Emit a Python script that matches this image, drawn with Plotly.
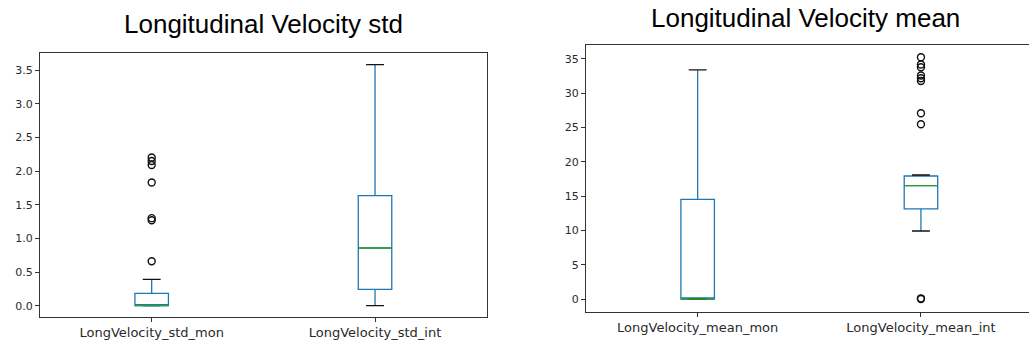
import plotly.graph_objects as go

# ---- data ----
std_labels = ["LongVelocity_std_mon", "LongVelocity_std_int"]
std_q1 = [0.0, 0.244]
std_median = [0.0, 0.857]
std_q3 = [0.184, 1.635]
std_low = [0.0, 0.0]
std_high = [0.39, 3.58]
std_outliers_mon = [0.66, 1.27, 1.30, 1.83, 2.09, 2.15, 2.20]
std_outliers_int = []

mean_labels = ["LongVelocity_mean_mon", "LongVelocity_mean_int"]
mean_q1 = [0.0, 13.13]
mean_median = [0.0, 16.53]
mean_q3 = [14.54, 17.94]
mean_low = [0.0, 9.92]
mean_high = [33.4, 18.08]
mean_outliers_mon = []
mean_outliers_int = [0.0, 0.1, 25.48, 27.08, 31.8, 32.2, 32.6, 33.8, 34.2, 35.25]

BLUE = "#1f77b4"
GREEN = "#2ca02c"
BOXW = 0.15
CAPW = 0.08

fig = go.Figure()


def add_panel(xa, ya, q1, med, q3, lo, hi, outs):
    pos = [1, 2]
    fig.add_trace(go.Box(
        x=pos, q1=q1, median=med, q3=q3, lowerfence=lo, upperfence=hi,
        width=BOXW, whiskerwidth=0, line=dict(color=BLUE, width=1.3),
        fillcolor="rgba(0,0,0,0)", boxpoints=False, showlegend=False,
        xaxis=xa, yaxis=ya, hoverinfo="skip"))
    # caps
    for p, l, h in zip(pos, lo, hi):
        for v in (l, h):
            fig.add_trace(go.Scatter(x=[p - CAPW / 2, p + CAPW / 2], y=[v, v], mode="lines",
                                     line=dict(color="#111111", width=1.3), showlegend=False,
                                     xaxis=xa, yaxis=ya, hoverinfo="skip"))
    # medians
    for p, m in zip(pos, med):
        fig.add_trace(go.Scatter(x=[p - BOXW / 2, p + BOXW / 2], y=[m, m], mode="lines",
                                 line=dict(color=GREEN, width=1.3), showlegend=False,
                                 xaxis=xa, yaxis=ya, hoverinfo="skip"))
    # outliers
    for p, o in zip(pos, outs):
        if o:
            fig.add_trace(go.Scatter(x=[p] * len(o), y=o, mode="markers",
                                     marker=dict(symbol="circle-open", size=7,
                                                 color="#111111", line=dict(width=1.4)),
                                     showlegend=False, xaxis=xa, yaxis=ya, hoverinfo="skip"))


add_panel("x", "y", std_q1, std_median, std_q3, std_low, std_high,
          [std_outliers_mon, std_outliers_int])
add_panel("x2", "y2", mean_q1, mean_median, mean_q3, mean_low, mean_high,
          [mean_outliers_mon, mean_outliers_int])

W, H = 1029, 345
axis_common = dict(showgrid=False, zeroline=False, showline=True, linecolor="#333333",
                   linewidth=1, ticks="outside", ticklen=4, tickcolor="#333333")
ytick_font = dict(family="DejaVu Sans", size=11, color="#2a2a2a")
xtick_font = dict(family="DejaVu Sans", size=13, color="#2a2a2a")

fig.update_layout(
    width=W, height=H, margin=dict(l=0, r=0, t=0, b=0),
    paper_bgcolor="white", plot_bgcolor="white",
    xaxis=dict(domain=[40 / W, 486.7 / W], range=[0.5, 2.5], tickvals=[1, 2],
               ticktext=std_labels, mirror=True, anchor="y", tickfont=xtick_font,
               **axis_common),
    yaxis=dict(domain=[1 - 316.7 / H, 1 - 52.7 / H], range=[-0.163, 3.757],
               tickvals=[0, 0.5, 1, 1.5, 2, 2.5, 3, 3.5], tickformat=".1f",
               mirror=True, anchor="x", tickfont=ytick_font, **axis_common),
    xaxis2=dict(domain=[586 / W, 1.0], range=[0.5, 0.5 + 443 / 223.3], tickvals=[1, 2],
                ticktext=mean_labels, mirror=True, anchor="y2", tickfont=xtick_font,
                **axis_common),
    yaxis2=dict(domain=[1 - 311.7 / H, 1 - 45 / H], range=[-1.85, 37.04],
                tickvals=[0, 5, 10, 15, 20, 25, 30, 35], mirror=False, anchor="x2",
                tickfont=ytick_font, **axis_common),
    annotations=[
        dict(text="Longitudinal Velocity std", x=263 / W, y=1 - 24 / H, xref="paper",
             yref="paper", showarrow=False, xanchor="center", yanchor="middle",
             font=dict(family="Liberation Sans", size=26, color="black")),
        dict(text="Longitudinal Velocity mean", x=805 / W, y=1 - 18 / H, xref="paper",
             yref="paper", showarrow=False, xanchor="center", yanchor="middle",
             font=dict(family="Liberation Sans", size=26, color="black")),
    ],
)

fig.write_html("out.html")
